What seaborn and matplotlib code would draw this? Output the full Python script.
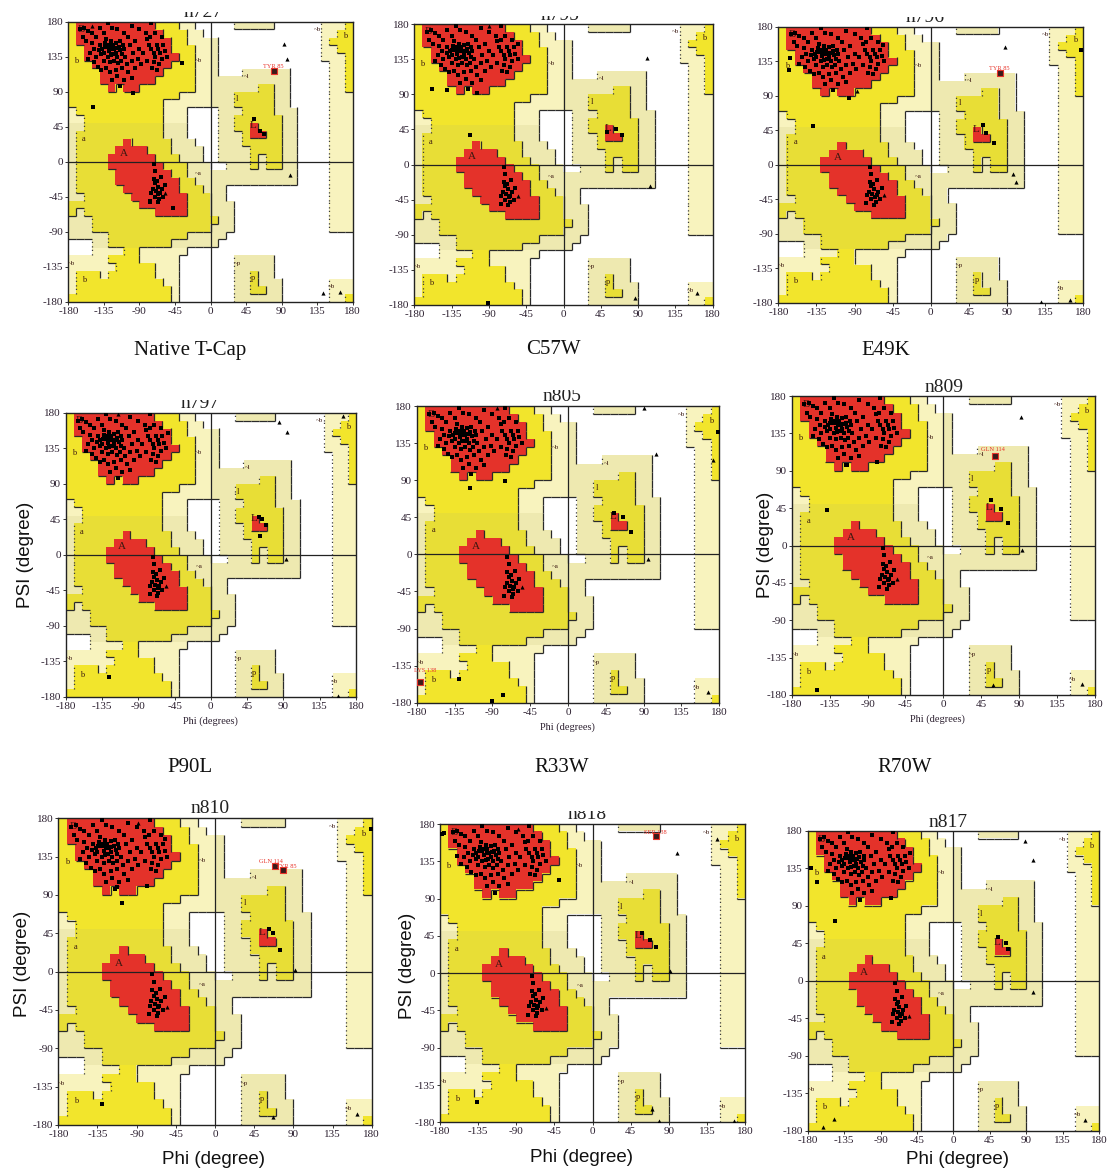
import numpy as np
import matplotlib
matplotlib.use("Agg")
import matplotlib.pyplot as plt
from matplotlib.collections import LineCollection
from matplotlib.colors import to_rgb
from matplotlib.transforms import Bbox, TransformedBbox
import seaborn as sns

sns.set_style("white")
plt.rcParams['font.family'] = ['Liberation Serif', 'DejaVu Serif']

# ---- Ramachandran region map, 10 degree cells ----
# rows: psi 180 (top) -> -180, columns: phi -180 -> 180
# R most favoured, Y additional allowed, P generously allowed, . disallowed
region_left = [  # phi -180..0
    "YRRRRRRRRRRYYYPP..",
    "YRRRRRRRRRRRYYYPP.",
    "YRRRRRRRRRRRRYYPPP",
    "YYRRRRRRRRRRRYYYPP",
    "YYRRRRRRRRRRRRYYPP",
    "YYYRRRRRRRRRRYYYPP",
    "YYYYRRRRRRRRYYYYPP",
    "YYYYRRRRRRRYYYYYPP",
    "YYYYYRYRRYYYYYYYPP",
    "YYYYYYYYYYYYYYPPPP",
    "YYYYYYYYYYYYPPPPPP",
    "PYYYYYYYYYYYPPP...",
    "PPYYYYYYYYYYPPP...",
    "PPYYYYYYYYYYPPP...",
    "PYYYYYYYYYYYPPP...",
    "PYYYYYYRYYYYYPPP..",
    "PYYYYYRRRRYYYPPPP.",
    "PYYYYRRRRRRYYYPPP.",
    "PYYYYRRRRRRRYYYPPP",
    "PYYYYYRRRRRRRYYPPP",
    "PYYYYYRRRRRRRRYYPP",
    "PYYYYYYRRRRRRRYYYP",
    "PPYYYYYYRRRRRRRYYY",
    "YYYYYYYYYRRRRRRYYY",
    "YPYYYYYYYYYRRRRYYY",
    "PPPYYYYYYYYYYYYYYY",
    "PPPYYYYYYYYYYYYYYY",
    "PPPPPYYYYYYYYYYPPP",
    "...PPYYYYYYYYPPPPP",
    "...PPPPYYPPPPPP...",
    "PPPPPYYYYPPPPP....",
    "PPPPPPYYYYYPPP....",
    "PYYYPYYYYYYPPP....",
    "PYYYYYYYYYYYPP....",
    "PYYYYYYYYYYYYP....",
    "YYYYYYYYYYYYYP....",
]
region_right = [  # phi 0..180
    "...PPPPP......PPPY",
    "..............PPYY",
    "P.............PYYY",
    "P.............PPYY",
    "P.............PPPY",
    "P..............PPY",
    "P...PPPPPP.....PPY",
    "PPPPPPPPPP.....PPY",
    "PPPPPPYYPP.....PPY",
    "PPPYYYYYPP.....PPP",
    "PPPYYYYYPP.....PPP",
    ".PPPYYYYPPP....PPP",
    ".PPYYYYYYPP....PPP",
    ".PPYYRYYYPP....PPP",
    ".PPPYRRYYPP....PPP",
    ".PPPYYYYYPP....PPP",
    ".PPPPYYYYPP....PPP",
    ".PPPPYPYYPP....PPP",
    "..PPPYPYYPP....PPP",
    "PPPPPPPPPPP....PPP",
    "PPPPPPPPPPP....PPP",
    "PP.............PPP",
    "PP.............PPP",
    "PPP............PPP",
    "PPP............PPP",
    "YPP............PPP",
    "PPP............PPP",
    "PP................",
    "P.................",
    "..................",
    "...PPPPP..........",
    "...PPPPP..........",
    "...PPYPP..........",
    "...PPYPPP......PPP",
    "...PPYYPP......PPP",
    "...PPPPPP......PPY",
]

# ---- residues shared by all models (phi, psi) ----
base_beta = [
    (-165, 170), (-160, 172), (-155, 168), (-162, 160), (-158, 155), (-150, 165), (-150, 152),
    (-147, 145), (-152, 140), (-145, 135), (-148, 128), (-155, 132), (-143, 122), (-140, 150),
    (-137, 145), (-135, 140), (-133, 152), (-130, 147), (-128, 142), (-126, 137), (-124, 150),
    (-122, 145), (-120, 140), (-118, 135), (-116, 148), (-114, 143), (-112, 138), (-130, 135),
    (-135, 130), (-127, 128), (-122, 130), (-117, 127), (-113, 130), (-138, 138), (-132, 158),
    (-126, 155), (-120, 153), (-110, 145), (-108, 135), (-125, 145), (-129, 150), (-123, 138),
    (-119, 146), (-141, 143), (-134, 147), (-115, 155), (-111, 150), (-138, 118), (-132, 120),
    (-127, 115), (-120, 118), (-118, 110), (-112, 120), (-106, 125), (-104, 115), (-100, 130),
    (-98, 140), (-102, 150), (-105, 160), (-110, 165), (-118, 170), (-125, 172), (-135, 165),
    (-140, 172), (-145, 160), (-100, 108), (-95, 120), (-92, 132), (-90, 145), (-95, 155),
    (-88, 125), (-110, 105), (-125, 105), (-115, 97), (-82, 165), (-80, 158), (-78, 150),
    (-75, 145), (-72, 140), (-70, 135), (-68, 150), (-66, 145), (-64, 140), (-62, 132),
    (-65, 125), (-72, 128), (-76, 160), (-70, 165), (-60, 150), (-58, 142), (-85, 140),
    (-80, 130), (-74, 120), (-68, 118), (-62, 160), (-55, 135), (-100, 175), (-75, 178),
    (-130, 178), (-90, 170),
]
base_alpha = [
    (-72, -3), (-70, -12), (-72, -22), (-70, -28), (-67, -32), (-73, -35), (-69, -38),
    (-66, -42), (-70, -45), (-64, -40), (-62, -35), (-60, -45), (-76, -50), (-65, -48),
    (-58, -30), (-68, -25), (-75, -40), (-63, -20), (-67, -52),
]

# ---- model specific residues ----
sq_n727 = [(-149, 70), (-36, 127), (-98, 88), (-47, -60), (-77, -52), (55, 55), (63, 40), (68, 35)]
tri_n727 = [(93, 151), (97, 132), (100, -17), (143, -169), (164, -168), (-58, -40), (-150, 175)]
flag_n727 = [("TYR 85", 80, 117, 80, 123)]

sq_c57w = [(-159, 97), (-140, 95), (-104, 91), (-113, 38), (-91, -177), (-55, 155), (52, 42), (63, 45), (70, 38)]
tri_c57w = [(101, 136), (104, -27), (86, -171), (161, -165), (-90, 178), (-55, -40)]
flag_c57w = []

sq_e49k = [(-166, 139), (-167, 124), (-139, 50), (-96, 87), (-57, 156), (177, 149), (62, 52), (65, 42), (75, 28)]
tri_e49k = [(88, 154), (-87, 96), (97, -12), (100, -23), (130, -179), (164, -176), (-55, -40)]
flag_e49k = [("TYR 85", 82, 120, 81, 126)]

sq_p90l = [(-53, 154), (-126, -155), (61, 24), (60, 48), (63, 45), (68, 38)]
tri_p90l = [(84, 168), (95, 156), (164, 176), (93, -5), (158, -179), (-55, -40), (-115, 178)]
flag_p90l = []

sq_r33w = [(-117, 81), (-75, 89), (-130, -151), (-77, -171), (-90, -178), (179, 149), (55, 50), (66, 45), (75, 27)]
tri_r33w = [(91, 178), (105, 122), (173, 115), (95, -6), (167, -167), (-85, 177), (-55, -40)]
flag_r33w = [("LYS 138", -176, -155, -170, -141)]

sq_r70w = [(-138, 43), (-79, 100), (-114, 97), (-150, -174), (57, 55), (68, 44), (77, 27)]
tri_r70w = [(92, 155), (93, -5), (59, -168), (165, -167), (-55, -40)]
flag_r70w = [("GLN 114", 61, 108, 59, 115)]

sq_n810 = [(-107, 81), (-113, 99), (-78, 101), (-57, 156), (-130, -155), (179, 168), (62, 50), (67, 45), (75, 25)]
tri_n810 = [(92, 2), (67, -171), (163, -167), (-55, -42), (-88, 174)]
flag_n810 = [("GLN 114", 69, 124, 64, 129), ("TYR 85", 78, 119, 82, 123)]

sq_n818 = [(-178, 168), (-175, 169), (-160, 141), (-39, 113), (-136, -156), (58, 48), (68, 40), (75, 32)]
tri_n818 = [(-88, 174), (147, 162), (100, 145), (91, 2), (78, -178), (167, -179), (70, -164), (-55, -42)]
flag_n818 = [("SER 138", 75, 165, 74, 170)]

sq_n817 = [(-176, 135), (-169, 119), (-146, 72), (-54, 153), (-77, 99), (55, 52), (65, 45), (68, 38)]
tri_n817 = [(88, 168), (98, 145), (98, -14), (-148, -166), (-161, -176), (163, -167), (-55, -42)]
flag_n817 = []

region_tags = [("B", -163, 170, 8), ("b", -170, 129, 6), ("a", -160, 29, 6), ("A", -110, 10, 8),
               ("~b", -15, 130, 5), ("~a", -15, -15, 5), ("~l", 46, 110, 5), ("l", 34, 80, 6),
               ("L", 54, 46, 8), ("~p", 34, -131, 5), ("p", 54, -150, 6), ("~b", 135, 170, 5),
               ("b", 170, 162, 6), ("~b", -176, -131, 5), ("b", -160, -152, 6), ("~b", 153, -161, 5)]

ticks = [-180, -135, -90, -45, 0, 45, 90, 135, 180]

# ---- layout (pixels of the 1108x1171 image) ----
W, H = 1108, 1171
panels = [
    # data, axes box (x0, x1, ytop, ybot), title (text, x, baseline, clip top)
    (sq_n727, tri_n727, flag_n727, (68.3, 352.7, 21.7, 301.7), ("n727", 203, 17, 11.5)),
    (sq_c57w, tri_c57w, flag_c57w, (414.3, 712.7, 24.0, 305.0), ("n795", 560, 19.5, 15.5)),
    (sq_e49k, tri_e49k, flag_e49k, (778.3, 1083.3, 26.7, 302.7), ("n796", 925, 21.5, 16.5)),
    (sq_p90l, tri_p90l, flag_p90l, (65.7, 356.0, 412.7, 696.7), ("n797", 200, 408, 400)),
    (sq_r33w, tri_r33w, flag_r33w, (416.7, 719.3, 406.0, 702.7), ("n805", 562, 401, 390)),
    (sq_r70w, tri_r70w, flag_r70w, (791.7, 1095.0, 396.0, 695.0), ("n809", 944, 392, None)),
    (sq_n810, tri_n810, flag_n810, (58.3, 371.7, 818.3, 1125.0), ("n810", 210, 813, None)),
    (sq_n818, tri_n818, flag_n818, (440.0, 745.0, 824.0, 1122.3), ("n818", 587, 819, 811)),
    (sq_n817, tri_n817, flag_n817, (807.7, 1099.0, 830.7, 1130.7), ("n817", 948, 827, None)),
]
captions = [("Native T-Cap", 190, 351), ("C57W", 553, 350), ("E49K", 886, 351),
            ("P90L", 190, 768), ("R33W", 562, 768), ("R70W", 905, 768)]
small_xlabels = [(210, 721), (567, 727), (937, 719)]
big_xlabels = [(213, 1160), (582, 1158), (957, 1159)]
big_ylabels = [(25, 555), (765, 545), (23, 964), (407, 966)]

# ---- colours of the map ----
level_of = {'.': 0, 'P': 1, 'Y': 2, 'R': 3}
grid = np.array([[level_of[c] for c in l + r] for l, r in zip(region_left, region_right)])
phi_c = -175 + 10 * np.arange(36)
psi_c = 175 - 10 * np.arange(36)
PHI, PSI = np.meshgrid(phi_c, psi_c)
dim = ((PHI < 0) & (PSI < 50) & (PSI > -110)) | ((PHI > 0) & (PHI < 110))
bright = ['#FFFFFF', '#F8F3BE', '#F2E52C', '#E4322A']
dull = ['#FFFFFF', '#EEE9B0', '#E8DE36', '#E4322A']
rgb = np.zeros((36, 36, 3))
for i in range(36):
    for j in range(36):
        rgb[i, j] = to_rgb((dull if dim[i, j] else bright)[grid[i, j]])

solid, dotted = [], []
for i in range(36):
    for j in range(36):
        v = grid[i, j]
        xr = -180 + 10 * (j + 1)
        yt = 180 - 10 * i
        yb = yt - 10
        if j < 35:
            w = grid[i, j + 1]
            if v > w:
                solid.append([(xr, yb), (xr, yt)])
            elif v < w < 3:
                dotted.append([(xr, yb), (xr, yt)])
        if i < 35 and v > grid[i + 1, j]:
            solid.append([(xr - 10, yb), (xr, yb)])

tick_col = '#2c2030'

fig = plt.figure(figsize=(W / 100, H / 100), dpi=100)
fig.patch.set_facecolor('white')


def fx(x):
    return x / W


def fy(y):
    return 1 - y / H


for sq, tri, flags, (x0, x1, y0, y1), (ttl, tx, tb, tclip) in panels:
    ax = fig.add_axes([fx(x0), fy(y1), fx(x1) - fx(x0), fy(y0) - fy(y1)])
    ax.imshow(rgb, extent=(-180, 180, -180, 180), origin='upper',
              interpolation='nearest', aspect='auto', zorder=0)
    ax.add_collection(LineCollection(solid, colors='#2a2a2a', linewidths=0.9, zorder=1))
    ax.add_collection(LineCollection(dotted, colors='#3a3a3a', linewidths=0.9,
                                     linestyles=[(0, (1, 2.6))], zorder=1))
    ax.axhline(0, color='#222222', lw=0.9, zorder=2)
    ax.axvline(0, color='#222222', lw=0.9, zorder=2)
    for txt, p, s, fs in region_tags:
        ax.text(p, s, txt, fontsize=fs, color='#3a1810', ha='center', va='center', zorder=3)

    pts = base_beta + base_alpha + sq
    sns.scatterplot(x=[p[0] for p in pts], y=[p[1] for p in pts], marker='s', s=12,
                    color='black', linewidth=0, ax=ax, zorder=5, legend=False)
    sns.scatterplot(x=[p[0] for p in tri], y=[p[1] for p in tri], marker='^', s=9,
                    color='black', linewidth=0, ax=ax, zorder=5, legend=False)
    if flags:
        sns.scatterplot(x=[f[1] for f in flags], y=[f[2] for f in flags], marker='s', s=14,
                        color='#3a1a1a', edgecolor='#E8352B', linewidth=0.8, ax=ax,
                        zorder=6, legend=False)
        for name, _, _, lx, ly in flags:
            ax.text(lx, ly, name, fontsize=4.6, color='#E8352B', ha='center', va='center',
                    zorder=7, clip_on=False)

    ax.set_xlim(-180, 180)
    ax.set_ylim(-180, 180)
    ax.set_xticks(ticks)
    ax.set_yticks(ticks)
    ax.set_xticklabels([str(t) for t in ticks], fontsize=8, color=tick_col)
    ax.set_yticklabels([str(t) for t in ticks], fontsize=8, color=tick_col)
    ax.tick_params(bottom=True, left=True, length=2, width=0.7, pad=1.5, colors='#333333',
                   labelcolor=tick_col)
    ax.set_xlabel('')
    ax.set_ylabel('')
    for sp in ax.spines.values():
        sp.set_color('#222222')
        sp.set_linewidth(1.0)

    t = fig.text(fx(tx), fy(tb), ttl, fontsize=14, ha='center', va='baseline', color='#222222')
    if tclip is not None:
        t.set_clip_box(TransformedBbox(Bbox.from_extents(0, fy(tb + 6), 1, fy(tclip)),
                                       fig.transFigure))
        t.set_clip_on(True)

for txt, x, y in captions:
    fig.text(fx(x), fy(y), txt, fontsize=15, ha='center', va='center', color='#111111')
for x, y in small_xlabels:
    fig.text(fx(x), fy(y), 'Phi (degrees)', fontsize=7.5, ha='center', va='center',
             color=tick_col)
for x, y in big_xlabels:
    fig.text(fx(x), fy(y), 'Phi (degree)', fontsize=13.5, ha='center', va='center',
             family=['Liberation Sans', 'DejaVu Sans'], color='#111111')
for x, y in big_ylabels:
    fig.text(fx(x), fy(y), 'PSI (degree)', fontsize=13.5, ha='center', va='center',
             rotation=90, family=['Liberation Sans', 'DejaVu Sans'], color='#111111')

fig.savefig('out.png', dpi=100)
